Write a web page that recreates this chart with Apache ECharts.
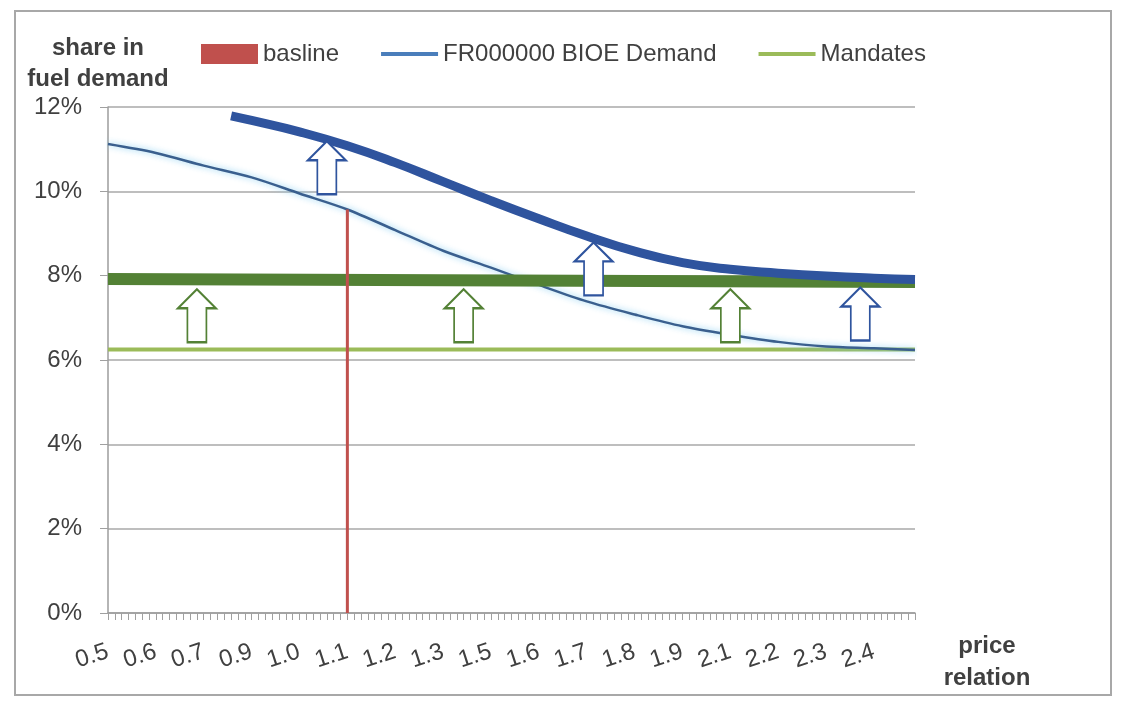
<!DOCTYPE html>
<html>
<head>
<meta charset="utf-8">
<title>Bioethanol demand vs. price relation</title>
<script src="https://cdn.jsdelivr.net/npm/echarts@6/dist/echarts.min.js"></script>
<style>
  html, body { margin: 0; padding: 0; background: #fff; }
  #chart { width: 1126px; height: 707px; }
</style>
</head>
<body>
<div id="chart"></div>
<script>
// Tick labels on the price-relation axis; one label every 7 sample steps.
const tickLabels = ['0.5', '0.6', '0.7', '0.9', '1.0', '1.1', '1.2', '1.3', '1.5',
                    '1.6', '1.7', '1.8', '1.9', '2.1', '2.2', '2.3', '2.4'];
const stepsPerLabel = 7;
const stepCount = 119;

// Category index of each reading below (labelled steps plus the last step).
const sampleIndex = [0, 7, 14, 21, 28, 35, 42, 49, 56, 63, 70, 77, 84, 91, 98, 105, 112, 118];

// FR000000 BIOE Demand (share in fuel demand, %)
const bioeDemand = [11.12, 10.91, 10.61, 10.33, 9.95, 9.57, 9.08, 8.59, 8.19,
                    7.78, 7.39, 7.08, 6.80, 6.60, 6.43, 6.32, 6.28, 6.24];

// Demand curve shifted upwards
const shiftedIndex = [18, 21, 28, 35, 42, 49, 56, 63, 70, 77, 84, 91, 98, 105, 112, 118];
const shiftedDemand = [11.79, 11.68, 11.41, 11.08, 10.68, 10.23, 9.78, 9.35,
                       8.94, 8.58, 8.31, 8.15, 8.06, 7.99, 7.94, 7.91];

// Mandates: current and raised level
const mandateIndex = [0, 118];
const mandates = [6.25, 6.25];
const raisedMandates = [7.92, 7.85];

// Baseline price relation (category 1.1) and demand there
const baselineIndex = 35;
const baselineValue = 9.57;

// Upward arrows: [category index, share %] of each arrow centre
const demandArrows = [[32, 10.56], [71, 8.16], [110, 7.09]];
const mandateArrows = [[13, 7.05], [52, 7.05], [91, 7.05]];

const categories = Array.from({ length: stepCount }, (_, i) =>
  i % stepsPerLabel === 0 && tickLabels[i / stepsPerLabel] ? tickLabels[i / stepsPerLabel] : '');

const pairs = (idx, vals) => idx.map((x, k) => [x, vals[k]]);

const FONT = '"Liberation Sans", Arial, sans-serif';
const TEXT = '#404040';
const DARK_BLUE = '#2F549E';
const DARK_GREEN = '#538135';
const ARROW = 'path://M19,0 L38,19 L28.5,19 L28.5,53 L9.5,53 L9.5,19 L0,19 Z';

const arrowPoints = (list) => list.map(([x, y]) => ({ coord: [x, y] }));

const chart = echarts.init(document.getElementById('chart'), null, { renderer: 'canvas' });

chart.setOption({
  animation: false,
  backgroundColor: '#ffffff',
  textStyle: { fontFamily: FONT },
  graphic: [{
    type: 'rect',
    z: -10,
    shape: { x: 15, y: 11, width: 1096, height: 684 },
    style: { fill: 'none', stroke: '#A8A8A8', lineWidth: 2 }
  }],
  legend: {
    left: 196,
    top: 37,
    itemWidth: 57,
    itemHeight: 20,
    itemGap: 40,
    textStyle: { fontSize: 24, color: TEXT, fontFamily: FONT },
    data: [
      { name: 'basline', icon: 'rect' },
      { name: 'FR000000 BIOE Demand', itemStyle: { opacity: 0 }, lineStyle: { color: '#4A7EBB', width: 4 } },
      { name: 'Mandates', itemStyle: { opacity: 0 }, lineStyle: { color: '#9BBB59', width: 4 } }
    ]
  },
  grid: { left: 108, top: 107, width: 807, height: 506 },
  xAxis: {
    type: 'category',
    data: categories,
    boundaryGap: false,
    name: 'price\nrelation',
    nameLocation: 'end',
    nameGap: 72,
    nameTextStyle: {
      fontSize: 24, fontWeight: 'bold', color: TEXT, fontFamily: FONT,
      align: 'center', verticalAlign: 'top', lineHeight: 32, padding: [17, 0, 0, 0]
    },
    axisLine: { lineStyle: { color: '#9C9C9C', width: 1.5 } },
    axisTick: { interval: 0, length: 7, lineStyle: { color: '#A0A0A0', width: 1 } },
    axisLabel: {
      interval: stepsPerLabel - 1,
      rotate: 18,
      margin: 38,
      fontSize: 24,
      color: TEXT,
      fontFamily: FONT
    },
    splitLine: { show: false }
  },
  yAxis: {
    type: 'value',
    min: 0,
    max: 12,
    interval: 2,
    name: 'share in\nfuel demand',
    nameLocation: 'end',
    nameGap: 7,
    nameTextStyle: {
      fontSize: 24, fontWeight: 'bold', color: TEXT, fontFamily: FONT,
      align: 'center', verticalAlign: 'bottom', lineHeight: 31, padding: [0, 20, 0, 0]
    },
    axisLine: { show: true, lineStyle: { color: '#9C9C9C', width: 1.5 } },
    axisTick: { show: true, length: 8, lineStyle: { color: '#A0A0A0' } },
    axisLabel: { formatter: '{value}%', fontSize: 24, color: TEXT, margin: 26, fontFamily: FONT },
    splitLine: { lineStyle: { color: '#BEBEBE', width: 2 } }
  },
  series: [
    {
      name: 'Mandates',
      type: 'line',
      data: pairs(mandateIndex, mandates),
      symbol: 'none',
      z: 2,
      lineStyle: { color: '#9BBB59', width: 4 },
      itemStyle: { color: '#9BBB59' }
    },
    {
      name: 'FR000000 BIOE Demand',
      type: 'line',
      data: pairs(sampleIndex, bioeDemand),
      symbol: 'none',
      smooth: 0.3,
      z: 3,
      lineStyle: { color: '#3A5F8E', width: 2.5, shadowColor: 'rgba(120,200,240,0.9)', shadowBlur: 6 },
      itemStyle: { color: '#4A7EBB' }
    },
    {
      name: 'Mandates raised',
      type: 'line',
      data: pairs(mandateIndex, raisedMandates),
      symbol: 'none',
      z: 4,
      lineStyle: { color: DARK_GREEN, width: 12 },
      itemStyle: { color: DARK_GREEN },
      markPoint: {
        symbol: ARROW,
        symbolSize: [38, 53],
        z: 10,
        label: { show: false },
        itemStyle: { color: '#ffffff', borderColor: DARK_GREEN, borderWidth: 2 },
        data: arrowPoints(mandateArrows)
      }
    },
    {
      name: 'BIOE Demand shifted',
      type: 'line',
      data: pairs(shiftedIndex, shiftedDemand),
      symbol: 'none',
      smooth: 0.5,
      z: 5,
      lineStyle: { color: DARK_BLUE, width: 9 },
      itemStyle: { color: DARK_BLUE },
      markPoint: {
        symbol: ARROW,
        symbolSize: [38, 53],
        z: 10,
        label: { show: false },
        itemStyle: { color: '#ffffff', borderColor: DARK_BLUE, borderWidth: 2 },
        data: arrowPoints(demandArrows)
      }
    },
    {
      name: 'basline',
      type: 'bar',
      data: [[baselineIndex, baselineValue]],
      barWidth: 3,
      z: 6,
      itemStyle: { color: '#C0504D' }
    }
  ]
});
</script>
</body>
</html>
